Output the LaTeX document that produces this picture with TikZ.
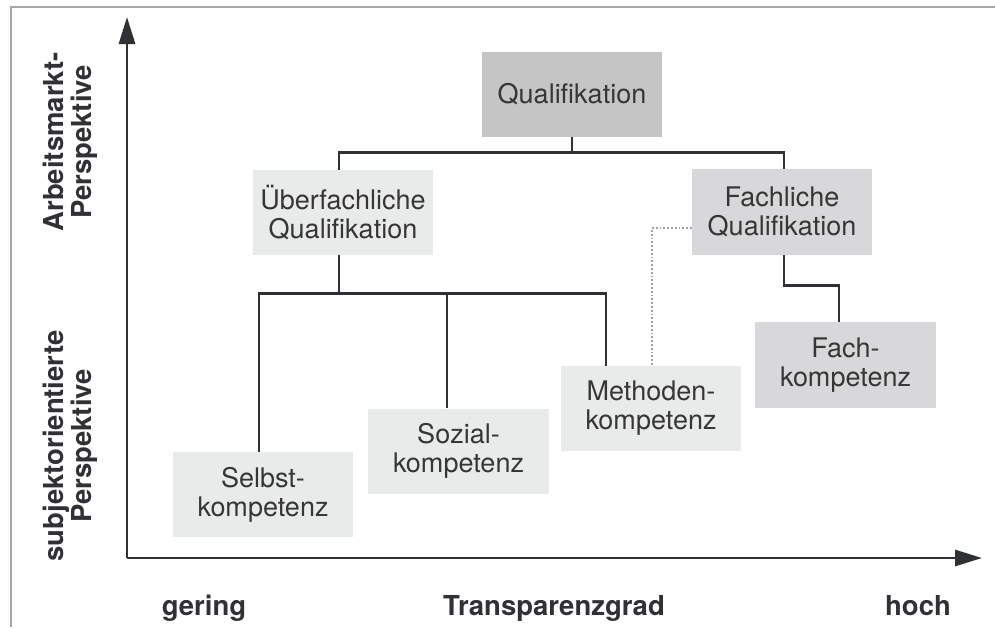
\documentclass[tikz,border=0pt]{standalone}
\usepackage{fontspec}
\setmainfont{TeX Gyre Heros}
\usetikzlibrary{arrows.meta,calc}
\definecolor{boxdark}{HTML}{C5C5C6}
\definecolor{boxmid}{HTML}{D8D8DA}
\definecolor{boxlight}{HTML}{E9EAEA}
\definecolor{txt}{HTML}{363636}
\definecolor{linec}{HTML}{2F3134}
\definecolor{framec}{HTML}{A8A8A8}
\definecolor{dotc}{HTML}{A0A0A0}
\tikzset{
  box/.style={minimum width=180pt, minimum height=85pt, inner sep=0pt, align=center,
    text=txt, font=\fontsize{27}{29}\selectfont},
  bdark/.style={box, fill=boxdark},
  bmid/.style={box, fill=boxmid},
  blight/.style={box, fill=boxlight},
  conn/.style={draw=linec, line width=2.8pt},
  dotline/.style={draw=dotc, line width=1.8pt, dotted},
  axis/.style={draw=linec, line width=2.8pt, -{Triangle[length=27pt,width=16pt]}},
  framel/.style={draw=framec, line width=2.4pt},
  lbl/.style={text=linec, font=\fontsize{27.5}{28}\selectfont\bfseries, align=center},
}
\begin{document}
\begin{tikzpicture}[x=1pt,y=-1pt]
\useasboundingbox (0,0) rectangle (995,627);
% frame
\draw[framel] (11,627) -- (11,7) -- (995,7);
% axes
\coordinate (O) at (127,558);
\coordinate (ytop) at (127,17);
\coordinate (xend) at (982,558);
\draw[axis] (O) -- (ytop);
\draw[axis] (O) -- (xend);
% axis labels
\node[lbl, rotate=90] (al1) at (70,142) {Arbeitsmarkt-\\Perspektive};
\node[lbl, rotate=90] (al2) at (70,446) {subjektorientierte\\Perspektive};
\node[lbl, anchor=base] (lg) at (204,615) {gering};
\node[lbl, anchor=base] (lt) at (554,615) {Transparenzgrad};
\node[lbl, anchor=base] (lh) at (918,615) {hoch};
% boxes
\node[bdark] (Q) at (572,94.5) {Qualifikation};
\node[blight] (U) at (343,212.5) {Überfachliche\\Qualifikation};
\node[bmid, minimum height=86pt] (F) at (782,212) {Fachliche\\Qualifikation};
\node[blight] (S) at (263,494.5) {Selbst-\\kompetenz};
\node[blight, minimum width=181pt] (So) at (458.5,451) {Sozial-\\kompetenz};
\node[blight] (M) at (651,408.5) {Methoden-\\kompetenz};
\node[bmid, minimum width=181pt, minimum height=86pt] (FK) at (845.5,365) {Fach-\\kompetenz};
% connectors
\coordinate (j1) at ($(Q.south)+(0,15)$);
\draw[conn] (Q.south) -- (j1);
\draw[conn] ([xshift=-4pt]U.north) |- (j1) -| ([xshift=2pt]F.north);
\coordinate (j2) at ($(U.south)+(-4,38)$);
\draw[conn] ([xshift=-4pt]U.south) -- (j2);
\draw[conn] ([xshift=-4pt]S.north) |- (j2) -| ([xshift=-45pt]M.north);
\draw[conn] ([xshift=-11.5pt]So.north) -- ([xshift=-11.5pt]So.north |- j2);
\coordinate (j3) at ($(F.south)+(2,30)$);
\draw[conn] ([xshift=2pt]F.south) -- (j3) -| ([xshift=-6.5pt]FK.north);
\draw[dotline] ([yshift=-16pt]F.west) -| ([xshift=1pt]M.north);
\end{tikzpicture}
\end{document}
